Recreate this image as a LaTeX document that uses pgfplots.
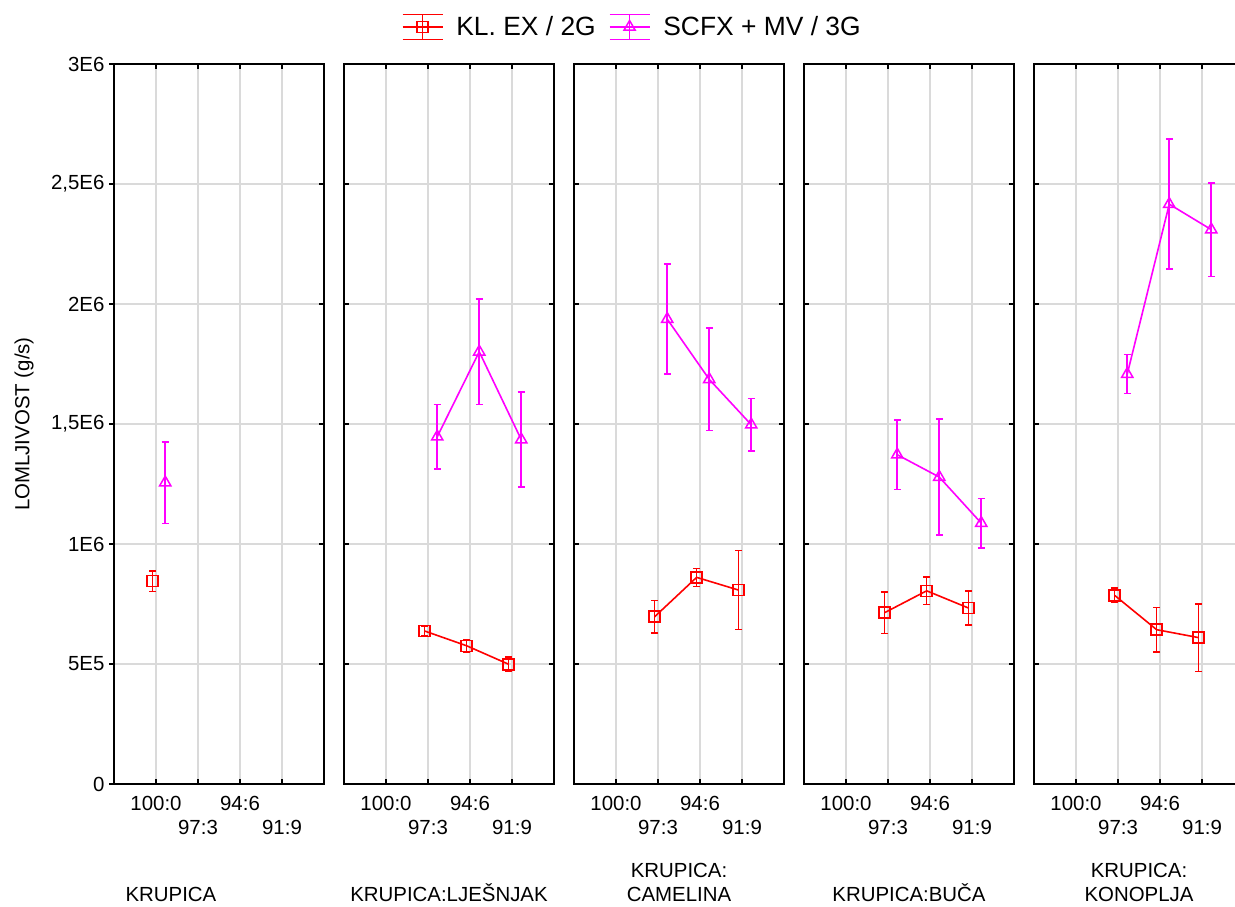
\documentclass[border=0pt]{standalone}
\usepackage{pgfplots}
\pgfplotsset{compat=1.18}
\usepackage{fontspec}
\setmainfont{Liberation Sans}
\definecolor{gridgray}{HTML}{DADADA}
\definecolor{cred}{HTML}{FF0000}
\definecolor{cmag}{HTML}{FF00FF}

% x = position - 0.08 (red) / + 0.22 (magenta); y; error
\pgfplotstableread{
x y e
0.92 845000 42000
}\redA
\pgfplotstableread{
x y e
1.22 1256000 170000
}\magA
\pgfplotstableread{
x y e
1.92 637500 20000
2.92 576000 25000
3.92 499000 30000
}\redB
\pgfplotstableread{
x y e
2.22 1447000 135000
3.22 1801000 220000
4.22 1435000 198000
}\magB
\pgfplotstableread{
x y e
1.92 697000 67000
2.92 861000 38000
3.92 808000 165000
}\redC
\pgfplotstableread{
x y e
2.22 1937000 229000
3.22 1686000 214000
4.22 1497000 110000
}\magC
\pgfplotstableread{
x y e
1.92 714000 87000
2.92 805000 58000
3.92 733000 71000
}\redD
\pgfplotstableread{
x y e
2.22 1372000 145000
3.22 1279000 242000
4.22 1087000 103000
}\magD
\pgfplotstableread{
x y e
1.92 786000 30000
2.92 643000 92000
3.92 610000 141000
}\redE
\pgfplotstableread{
x y e
2.22 1708000 81000
3.22 2416000 271000
4.22 2310000 195000
}\magE

\pgfplotsset{
  panel/.style={
    width=210bp, height=720bp, scale only axis,
    anchor=north west,
    xmin=0, xmax=5, ymin=0, ymax=3e6,
    xtick={1,2,3,4},
    xticklabels={{\strut 100:0},{\strut\\\strut 97:3},{\strut 94:6},{\strut\\\strut 91:9}},
    xticklabel style={align=center, font=\fontsize{20.5}{24}\selectfont, yshift=-6bp},
    ytick={0,500000,1000000,1500000,2000000,2500000,3000000},
    yticklabels={},
    scaled y ticks=false,
    grid=major,
    major grid style={gridgray, line width=1.4bp},
    axis line style={black, line width=1.6bp},
    major tick style={black, line width=1.4bp},
    major tick length=5bp,
    tick align=inside,
    clip=false,
    xlabel style={font=\fontsize{20.5}{24}\selectfont, align=center, anchor=south, inner sep=0pt},
  },
  redplot/.style={color=cred, line width=1.6bp, mark=square, mark size=5.5bp,
    mark options={solid, line width=1.5bp},
    error bars/.cd, y dir=both, y explicit,
    error mark=-,
    error bar style={draw=cred, color=cred, line width=1.6bp},
    error mark options={rotate=90, draw=cred, line width=1.5bp, mark size=3.5bp}},
  magplot/.style={color=cmag, line width=1.6bp, mark=triangle, mark size=6.5bp,
    mark options={solid, line width=1.5bp},
    error bars/.cd, y dir=both, y explicit,
    error mark=-,
    error bar style={draw=cmag, color=cmag, line width=1.6bp},
    error mark options={rotate=90, draw=cmag, line width=1.5bp, mark size=3.5bp}},
}

\begin{document}
\begin{tikzpicture}[x=1bp,y=1bp]
\useasboundingbox (0,0) rectangle (1235,-907);

% Panel 1
\begin{axis}[panel, at={(114bp,-64bp)},
  ytick pos=left, ytick align=outside,
  extra y ticks={0,500000,1000000,1500000,2000000,2500000,3000000},
  extra y tick labels={},
  extra y tick style={ytick pos=right, ytick align=inside, grid=none},
  yticklabels={0,5E5,1E6,{1,5E6},2E6,{2,5E6},3E6},
  yticklabel style={font=\fontsize{20.5}{24}\selectfont, xshift=-1bp},
  ylabel={LOMLJIVOST (g/s)},
  ylabel style={font=\fontsize{20.5}{24}\selectfont, at={(axis description cs:-0.4286,0.5)}, anchor=center, rotate=0},
  xlabel={KRUPICA},
  xlabel style={at={(axis description cs:0.271,-0.1639)}},
]
\addplot[redplot] table[x=x, y=y, y error=e] {\redA};
\addplot[magplot] table[x=x, y=y, y error=e] {\magA};
\end{axis}

% Panel 2
\begin{axis}[panel, at={(344bp,-64bp)},
  xlabel={KRUPICA:LJEŠNJAK},
  xlabel style={at={(axis description cs:0.5,-0.1639)}},
]
\addplot[redplot] table[x=x, y=y, y error=e] {\redB};
\addplot[magplot] table[x=x, y=y, y error=e] {\magB};
\end{axis}

% Panel 3 (holds legend)
\begin{axis}[panel, at={(574bp,-64bp)},
  xlabel={KRUPICA:\\CAMELINA},
  xlabel style={at={(axis description cs:0.5,-0.1639)}},
  legend style={draw=none, fill=none, at={(axis description cs:0.2773,1.0514)}, anchor=center,
    font=\fontsize{26.5}{30}\selectfont, legend columns=2,
    /tikz/every odd column/.append style={column sep=11bp},
    /tikz/every even column/.append style={column sep=11bp}},
]
\addlegendimage{color=cred, line width=1.6bp, mark=square, mark size=5.5bp, mark options={solid, line width=1.5bp},
  legend image code/.code={
    \draw[draw=cred, line width=1.6bp, mark=none] (0bp,12.5bp)--(40bp,12.5bp) (0bp,-12.5bp)--(40bp,-12.5bp) (0bp,0bp)--(40bp,0bp) (20bp,-12.5bp)--(20bp,12.5bp);
    \draw[draw=cred] plot coordinates {(20bp,0bp)};
  }}
\addlegendentry{KL. EX / 2G}
\addlegendimage{color=cmag, line width=1.6bp, mark=triangle, mark size=6.5bp, mark options={solid, line width=1.5bp},
  legend image code/.code={
    \draw[draw=cmag, line width=1.6bp, mark=none] (0bp,12.5bp)--(40bp,12.5bp) (0bp,-12.5bp)--(40bp,-12.5bp) (0bp,0bp)--(40bp,0bp) (20bp,-12.5bp)--(20bp,12.5bp);
    \draw[draw=cmag] plot coordinates {(20bp,0bp)};
  }}
\addlegendentry{SCFX + MV / 3G}
\addplot[forget plot, redplot] table[x=x, y=y, y error=e] {\redC};
\addplot[forget plot, magplot] table[x=x, y=y, y error=e] {\magC};
\end{axis}

% Panel 4
\begin{axis}[panel, at={(804bp,-64bp)},
  xlabel={KRUPICA:BUČA},
  xlabel style={at={(axis description cs:0.5,-0.1639)}},
]
\addplot[redplot] table[x=x, y=y, y error=e] {\redD};
\addplot[magplot] table[x=x, y=y, y error=e] {\magD};
\end{axis}

% Panel 5
\begin{axis}[panel, at={(1034bp,-64bp)},
  xlabel={KRUPICA:\\KONOPLJA},
  xlabel style={at={(axis description cs:0.5,-0.1639)}},
]
\addplot[redplot] table[x=x, y=y, y error=e] {\redE};
\addplot[magplot] table[x=x, y=y, y error=e] {\magE};
\end{axis}
\end{tikzpicture}
\end{document}
